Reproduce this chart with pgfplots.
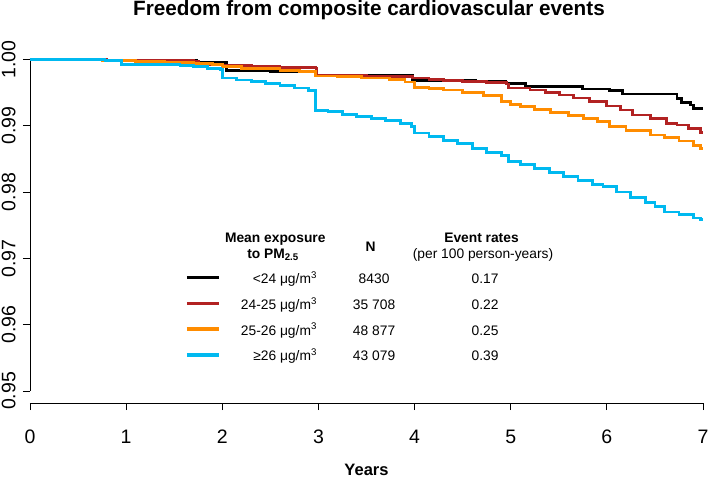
\documentclass[border=0pt]{standalone}
\usepackage{fontspec}
\setmainfont{Liberation Sans}
\usepackage{pgfplots}
\pgfplotsset{compat=1.18}
\definecolor{cBlack}{RGB}{0,0,0}
\definecolor{cRed}{RGB}{178,34,34}
\definecolor{cOrange}{RGB}{255,140,0}
\definecolor{cBlue}{RGB}{0,185,240}
\newcommand{\legfont}{\fontsize{13.8bp}{16bp}\selectfont}
\newcommand{\rowtext}[3]{\makebox[91.3bp][r]{#1}\makebox[114.4bp][c]{#2}\makebox[107.6bp][c]{#3}}
\begin{document}
\begin{tikzpicture}
\begin{axis}[
  name=ax, at={(0,0)}, anchor=south west,
  scale only axis, width=673bp, height=343.5bp,
  xmin=0, xmax=7, ymin=0.94819, ymax=1.0,
  axis x line=bottom, axis y line=left,
  axis line style={-, line width=0.9bp, black},
  y axis line style={shorten <=12bp},
  xtick={0,1,2,3,4,5,6,7}, xticklabels={0,1,2,3,4,5,6,7},
  ytick={0.95,0.96,0.97,0.98,0.99,1.0},
  yticklabels={0.95,0.96,0.97,0.98,0.99,1.00},
  tick align=outside, major tick length=7bp,
  tick style={line width=0.9bp, black},
  tick label style={font=\fontsize{19.5bp}{22bp}\selectfont, inner sep=0pt},
  xticklabel style={anchor=base, yshift=-33.3bp},
  yticklabel style={xshift=-7.5bp, rotate=90, anchor=base},
  clip=false,
  legend cell align=left,
  legend style={at={(axis description cs:0.2303,0.3828)}, anchor=north west,
    draw=none, fill=none, inner sep=0pt, outer sep=0pt, row sep=12.4bp,
    column sep=4.3bp, font=\legfont, nodes={inner sep=0pt, outer sep=0pt}},
  legend image code/.code={\draw[#1, line width=3.6bp] (0bp,0.7bp) -- (32.7bp,0.7bp);},
]
\addplot[cBlack, line width=2.8bp, const plot] coordinates {
(0,1.0000) (0.75,0.99985) (1.73,0.9996) (2.04,0.9983) (2.50,0.99820) (2.97,0.9981)
(2.98,0.9976) (3.98,0.9968) (4.63,0.99665) (4.95,0.9964) (5.15,0.9959) (5.75,0.99555)
(6.03,0.9953) (6.16,0.9948) (6.73,0.99415) (6.78,0.99348) (6.87,0.99314) (6.90,0.99264) (7.00,0.99264)};
\addlegendentry{\rowtext{<24 μg/m\textsuperscript{3}}{8430}{0.17}}
\addplot[cRed, line width=2.8bp, const plot] coordinates {
(0,1.0000) (0.80,0.99985) (1.70,0.9997) (1.75,0.9992) (2.00,0.9991) (2.30,0.9990) (2.60,0.99885)
(2.97,0.99872) (2.98,0.99762) (3.50,0.99745) (3.98,0.9972) (4.15,0.9970) (4.30,0.99688)
(4.50,0.9967) (4.75,0.99650) (4.96,0.9963) (4.98,0.9957) (5.20,0.9954) (5.36,0.9950)
(5.51,0.99465) (5.65,0.9942) (5.82,0.99364) (6.00,0.9930) (6.14,0.99238) (6.27,0.99163)
(6.45,0.99113) (6.62,0.99037) (6.73,0.99012) (6.85,0.9896) (6.97,0.9890) (7.00,0.9890)};
\addlegendentry{\rowtext{24-25 μg/m\textsuperscript{3}}{35 708}{0.22}}
\addplot[cOrange, line width=2.8bp, const plot] coordinates {
(0,1.0000) (0.75,0.99985) (1.10,0.9997) (1.40,0.99955) (1.70,0.9994) (1.90,0.9993)
(2.00,0.9989) (2.20,0.9987) (2.40,0.9986) (2.60,0.9984) (2.80,0.9982) (2.97,0.99752)
(3.20,0.9974) (3.45,0.9972) (3.74,0.9970) (3.90,0.9966) (4.00,0.9958) (4.15,0.9956)
(4.30,0.9954) (4.50,0.9950) (4.72,0.9946) (4.90,0.9937) (5.00,0.9932) (5.10,0.9929)
(5.25,0.9925) (5.41,0.9920) (5.60,0.9916) (5.76,0.9911) (5.90,0.9906) (6.03,0.9899)
(6.20,0.9893) (6.45,0.9886) (6.60,0.9882) (6.75,0.9877) (6.90,0.9870) (6.97,0.9866) (7.00,0.9866)};
\addlegendentry{\rowtext{25-26 μg/m\textsuperscript{3}}{48 877}{0.25}}
\addplot[cBlue, line width=2.8bp, const plot] coordinates {
(0,1.0000) (0.78,0.9998) (0.95,0.9992) (1.56,0.9991) (1.70,0.9989) (1.85,0.9987) (1.98,0.9985)
(2.00,0.9972) (2.15,0.9969) (2.30,0.9967) (2.45,0.9964) (2.60,0.9961) (2.75,0.9957) (2.90,0.9953)
(2.97,0.99235) (3.10,0.9921) (3.25,0.9917) (3.40,0.9914) (3.55,0.9911) (3.70,0.9908) (3.85,0.9903)
(3.97,0.9899) (4.00,0.9889) (4.15,0.9884) (4.30,0.9878) (4.45,0.9873) (4.60,0.9866) (4.75,0.9860)
(4.90,0.9855) (4.98,0.9846) (5.10,0.9842) (5.25,0.9836) (5.40,0.9829) (5.55,0.9824) (5.70,0.9817)
(5.85,0.9812) (5.96,0.9808) (6.10,0.9800) (6.25,0.9792) (6.40,0.9784) (6.50,0.9778) (6.60,0.9770)
(6.75,0.9766) (6.90,0.9761) (6.97,0.9759) (7.00,0.9759)};
\addlegendentry{\rowtext{≥26 μg/m\textsuperscript{3}}{43 079}{0.39}}
\end{axis}
\node[font=\bfseries\fontsize{20.7bp}{24bp}\selectfont, anchor=base] at ([shift={(339bp,387bp)}]ax.south west) {Freedom from composite cardiovascular events};
\node[font=\bfseries\fontsize{16.5bp}{20bp}\selectfont, anchor=base] at ([shift={(336.5bp,-72.5bp)}]ax.south west) {Years};
\node[font=\bfseries\legfont, anchor=base] at ([shift={(245.3bp,160.7bp)}]ax.south west) {Mean exposure};
\node[font=\bfseries\legfont, anchor=base] at ([shift={(243bp,144.7bp)}]ax.south west) {to PM\textsubscript{2.5}};
\node[font=\bfseries\legfont, anchor=base] at ([shift={(340.5bp,151.3bp)}]ax.south west) {N};
\node[font=\bfseries\legfont, anchor=base] at ([shift={(451.5bp,160.7bp)}]ax.south west) {Event rates};
\node[font=\legfont, anchor=base] at ([shift={(453bp,144.7bp)}]ax.south west) {(per 100 person-years)};
\pgfresetboundingbox
\path ([shift={(-30bp,-76bp)}]ax.south west) rectangle ([shift={(679bp,403bp)}]ax.south west);
\end{tikzpicture}
\end{document}
